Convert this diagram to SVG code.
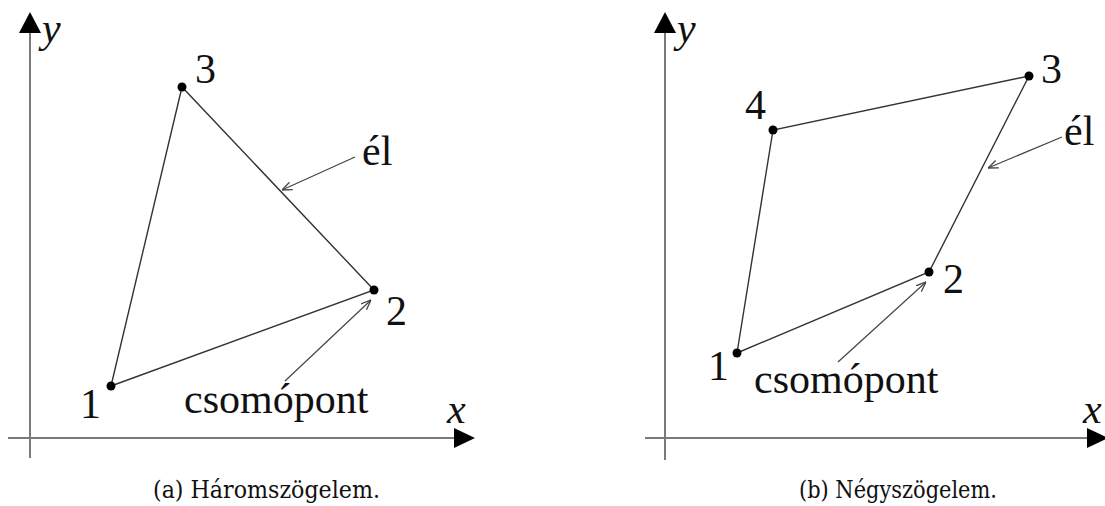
<svg xmlns="http://www.w3.org/2000/svg" width="1105" height="506" viewBox="0 0 1105 506">
<defs>
<style>
.axis{stroke:#7a7a7a;stroke-width:2;fill:none}
.ah{fill:#000;stroke:none}
.edge{stroke:#333;stroke-width:1.4;fill:none}
.ptr{stroke:#444;stroke-width:1.2;fill:none;marker-end:url(#open)}
.dot{fill:#000}
</style>
<marker id="open" viewBox="0 0 10 10" refX="10" refY="5" markerWidth="10" markerHeight="10" markerUnits="userSpaceOnUse" orient="auto">
<path d="M0,1 L10,5 L0,9" fill="none" stroke="#444" stroke-width="1.3"/>
</marker>
</defs>
<rect width="1105" height="506" fill="#fff"/>

<g id="axes-a">
<line class="axis" x1="30" y1="458" x2="30" y2="30"/>
<polygon class="ah" points="30,12 19,33 41,33"/>
<line class="axis" x1="8" y1="438" x2="456" y2="438"/>
<polygon class="ah" points="475,438 454,428 454,448"/>
<text x="42" y="42" font-family="Liberation Serif, serif" font-size="42" font-style="italic" fill="#111">y</text>
<text x="447" y="423" font-family="Liberation Serif, serif" font-size="42" font-style="italic" fill="#111">x</text>
</g>

<g id="axes-b">
<line class="axis" x1="665" y1="460" x2="665" y2="30"/>
<polygon class="ah" points="665,12 654,33 676,33"/>
<line class="axis" x1="645" y1="438" x2="1090" y2="438"/>
<polygon class="ah" points="1108,438 1087,428 1087,448"/>
<text x="677" y="42" font-family="Liberation Serif, serif" font-size="42" font-style="italic" fill="#111">y</text>
<text x="1083" y="423" font-family="Liberation Serif, serif" font-size="42" font-style="italic" fill="#111">x</text>
</g>

<g id="connectors">
<polyline class="edge" points="111,386 374,290 182,87 111,386"/>
<polyline class="edge" points="737,353 929,272 1029,76 773,130 737,353"/>
<line class="ptr" x1="355" y1="157" x2="282" y2="190"/>
<line class="ptr" x1="285" y1="381" x2="371" y2="300"/>
<line class="ptr" x1="1062" y1="137" x2="988" y2="168"/>
<line class="ptr" x1="838" y1="362" x2="926" y2="282"/>
</g>

<g font-family="Liberation Serif, serif" font-size="42" fill="#111">
<g id="a-node1"><circle class="dot" cx="111" cy="386" r="4.5"/><text x="80" y="418">1</text></g>
<g id="a-node2"><circle class="dot" cx="374" cy="290" r="4.5"/><text x="386" y="325">2</text></g>
<g id="a-node3"><circle class="dot" cx="182" cy="87" r="4.5"/><text x="195" y="83">3</text></g>
<g id="a-label-el"><text x="362" y="165">él</text></g>
<g id="a-label-csomopont"><text x="184" y="413">csomópont</text></g>

<g id="b-node1"><circle class="dot" cx="737" cy="353" r="4.5"/><text x="708" y="380">1</text></g>
<g id="b-node2"><circle class="dot" cx="929" cy="272" r="4.5"/><text x="943" y="293">2</text></g>
<g id="b-node3"><circle class="dot" cx="1029" cy="76" r="4.5"/><text x="1041" y="83">3</text></g>
<g id="b-node4"><circle class="dot" cx="773" cy="130" r="4.5"/><text x="745" y="119">4</text></g>
<g id="b-label-el"><text x="1064" y="145">él</text></g>
<g id="b-label-csomopont"><text x="754" y="393">csomópont</text></g>
</g>

<g id="captions" font-family="DejaVu Serif, serif" font-size="25" fill="#111">
<text x="153" y="498" textLength="227" lengthAdjust="spacingAndGlyphs">(a) Háromszögelem.</text>
<text x="799" y="498" textLength="198" lengthAdjust="spacingAndGlyphs">(b) Négyszögelem.</text>
</g>
</svg>
